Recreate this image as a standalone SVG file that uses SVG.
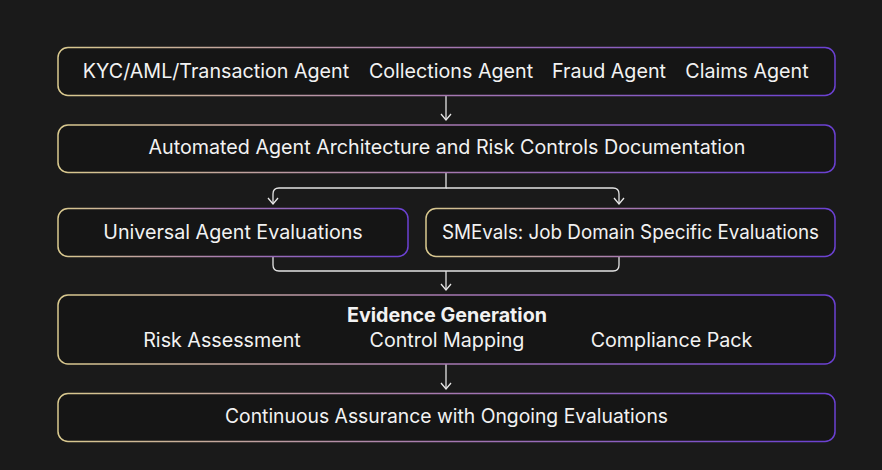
<svg xmlns="http://www.w3.org/2000/svg" width="882" height="470" viewBox="0 0 882 470">
  <defs>
    <linearGradient id="edge" x1="0" y1="0" x2="1" y2="0">
      <stop offset="0" stop-color="#d9c98e"/>
      <stop offset="0.5" stop-color="#a678b0"/>
      <stop offset="1" stop-color="#6a40d2"/>
    </linearGradient>
    <marker id="arr" viewBox="0 0 8 12" refX="7" refY="6" markerWidth="8" markerHeight="12" markerUnits="userSpaceOnUse" orient="auto">
      <path d="M1 1 L7 6 L1 11" fill="none" stroke="#e8e8e8" stroke-width="1.3"/>
    </marker>
    <style>
      .box { fill: #151515; stroke: url(#edge); stroke-width: 1.5; }
      .t { font-family: Inter, "Liberation Sans", sans-serif; font-size: 19.7px; fill: #f2f2f2; text-anchor: middle; }
      .b { font-weight: 700; }
      .c { fill: none; stroke: #e4e4e4; stroke-width: 1.3; }
    </style>
  </defs>
  <rect width="882" height="470" fill="#1a1a1a"/>

  <g id="connectors">
    <path class="c" d="M446 96 V120" marker-end="url(#arr)"/>
    <path class="c" d="M446 172 V188 H279 Q273 188 273 194 V204" marker-end="url(#arr)"/>
    <path class="c" d="M446 188 H613 Q619 188 619 194 V204" marker-end="url(#arr)"/>
    <path class="c" d="M273 257 V265 Q273 271 279 271 H613 Q619 271 619 265 V257"/>
    <path class="c" d="M446 271 V290" marker-end="url(#arr)"/>
    <path class="c" d="M446 364 V389" marker-end="url(#arr)"/>
  </g>

  <g id="agents">
    <rect class="box" x="58" y="47.5" width="777" height="48" rx="10"/>
    <text class="t" x="216" y="78">KYC/AML/Transaction Agent</text>
    <text class="t" x="451" y="78">Collections Agent</text>
    <text class="t" x="609" y="78">Fraud Agent</text>
    <text class="t" x="747" y="78">Claims Agent</text>
  </g>

  <g id="documentation">
    <rect class="box" x="58" y="125" width="777" height="47.5" rx="10"/>
    <text class="t" x="447" y="154">Automated Agent Architecture and Risk Controls Documentation</text>
  </g>

  <g id="universal">
    <rect class="box" x="58" y="208.5" width="350" height="48" rx="10"/>
    <text class="t" x="233" y="239">Universal Agent Evaluations</text>
  </g>

  <g id="smevals">
    <rect class="box" x="426" y="208.5" width="409" height="48" rx="10"/>
    <text class="t" x="630.5" y="239" textLength="377" lengthAdjust="spacingAndGlyphs">SMEvals: Job Domain Specific Evaluations</text>
  </g>

  <g id="evidence">
    <rect class="box" x="58" y="295" width="777" height="69" rx="10"/>
    <text class="t b" x="447" y="322">Evidence Generation</text>
    <text class="t" x="222" y="347">Risk Assessment</text>
    <text class="t" x="447" y="347">Control Mapping</text>
    <text class="t" x="671.5" y="347">Compliance Pack</text>
  </g>

  <g id="assurance">
    <rect class="box" x="58" y="393.5" width="777" height="48" rx="10"/>
    <text class="t" x="446.5" y="423" textLength="443" lengthAdjust="spacingAndGlyphs">Continuous Assurance with Ongoing Evaluations</text>
  </g>
</svg>
